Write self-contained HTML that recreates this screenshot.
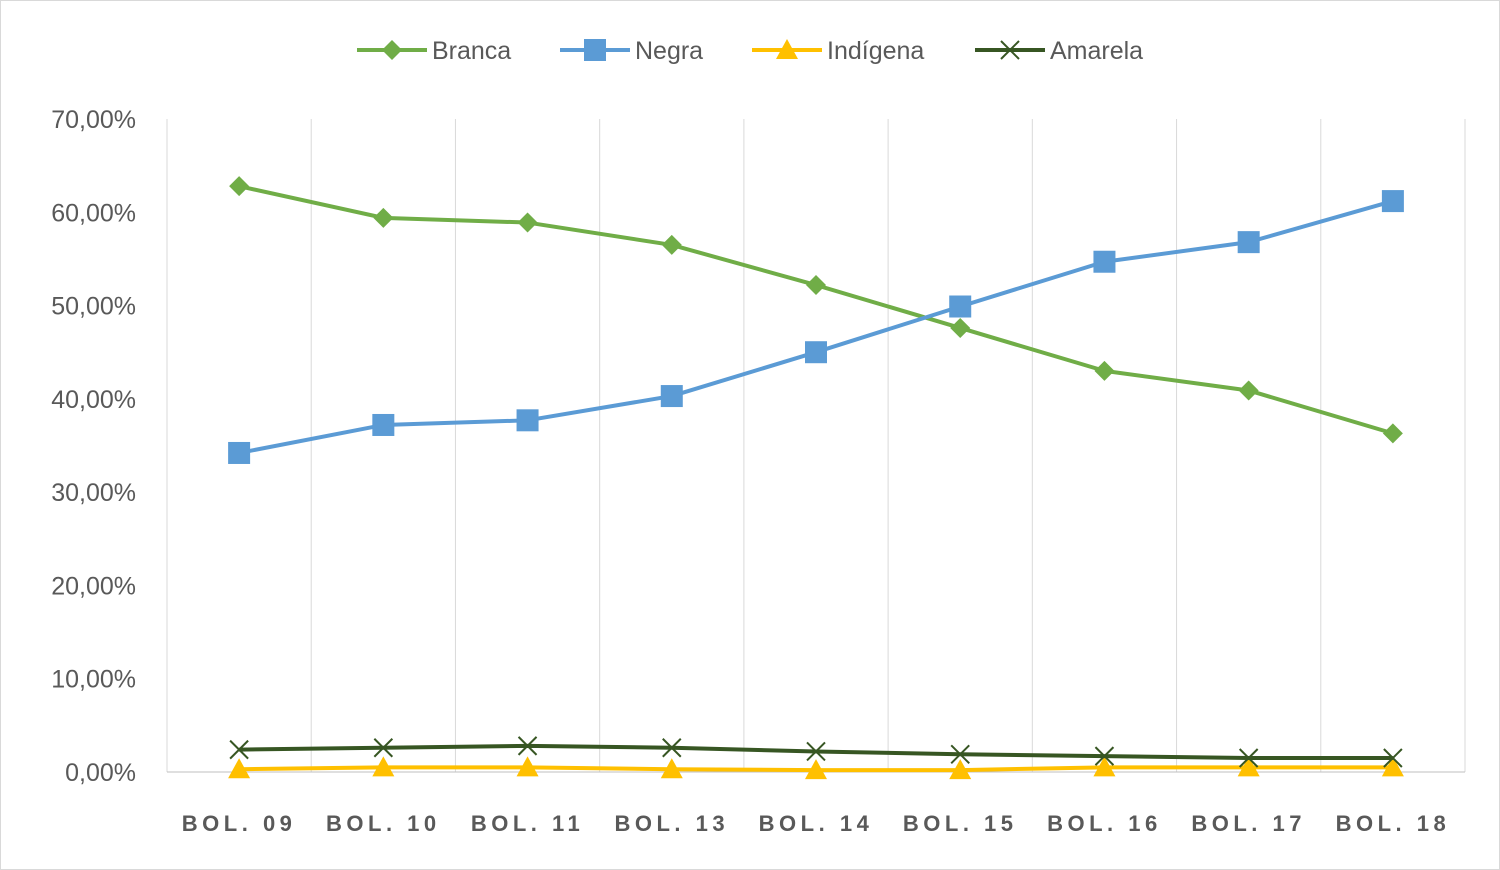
<!DOCTYPE html>
<html><head><meta charset="utf-8"><style>
body{margin:0;background:#fff;}
svg{display:block;font-family:"Liberation Sans",sans-serif;}
</style></head><body>
<svg id="chart" width="1500" height="870">
<rect x="0.5" y="0.5" width="1499" height="869" fill="#fff" stroke="#d9d9d9"/>
<g id="grid"></g><g id="axes"></g><g id="series"></g><g id="legend"></g>
</svg>
<script>
const categories=["BOL. 09","BOL. 10","BOL. 11","BOL. 13","BOL. 14","BOL. 15","BOL. 16","BOL. 17","BOL. 18"];
const branca=[62.8,59.4,58.9,56.5,52.2,47.6,43.0,40.9,36.3];
const negra=[34.2,37.2,37.7,40.3,45.0,49.9,54.7,56.8,61.2];
const indigena=[0.3,0.5,0.5,0.3,0.2,0.2,0.5,0.5,0.5];
const amarela=[2.4,2.6,2.8,2.6,2.2,1.9,1.7,1.5,1.5];
const yTicks=[0,10,20,30,40,50,60,70];
const seriesNames=["Branca","Negra","Indígena","Amarela"];

const NS="http://www.w3.org/2000/svg";
const X0=167,X1=1465,Y0=772,Y70=119;
const step=(X1-X0)/categories.length;
const xs=i=>X0+step*(i+0.5);
const ys=v=>Y0-(v/70)*(Y0-Y70);
function mk(tag,attrs,parent){const e=document.createElementNS(NS,tag);for(const k in attrs)e.setAttribute(k,attrs[k]);parent.appendChild(e);return e;}
const grid=document.getElementById('grid'),axes=document.getElementById('axes'),ser=document.getElementById('series'),leg=document.getElementById('legend');
for(let i=0;i<=categories.length;i++){const x=X0+step*i;const l=mk('line',{x1:x,x2:x,y1:Y70,y2:Y0,stroke:'#d9d9d9','stroke-width':1},grid);

}
const ax=mk('line',{x1:X0,x2:X1,y1:Y0,y2:Y0,stroke:'#bfbfbf','stroke-width':1},axes);


yTicks.forEach(t=>{const e=mk('text',{x:136,y:ys(t)+9,'text-anchor':'end','font-size':25,fill:'#595959'},axes);e.textContent=t.toFixed(2).replace('.',',')+'%';

});
categories.forEach((c,i)=>{const e=mk('text',{x:xs(i),y:831,'text-anchor':'middle','font-size':22,'font-weight':'bold',fill:'#595959','letter-spacing':'4.5'},axes);e.textContent=c;

});
const colors=['#70ad47','#5b9bd5','#ffc000','#375623'];
function marker(type,x,y,col,g){
 if(type===0)return mk('polygon',{points:`${x},${y-10} ${x+10},${y} ${x},${y+10} ${x-10},${y}`,fill:col},g);
 if(type===1)return mk('rect',{x:x-11,y:y-11,width:22,height:22,fill:col},g);
 if(type===2)return mk('polygon',{points:`${x},${y-11} ${x+11},${y+9} ${x-11},${y+9}`,fill:col},g);
 return mk('path',{d:`M${x-9},${y-9}L${x+9},${y+9}M${x-9},${y+9}L${x+9},${y-9}`,stroke:col,'stroke-width':2,fill:'none'},g);
}
[branca,negra,indigena,amarela].forEach((arr,s)=>{
 const g=mk('g',{},ser);
 
 
 const p=mk('polyline',{points:arr.map((v,i)=>xs(i)+','+ys(v)).join(' '),fill:'none',stroke:colors[s],'stroke-width':4,'stroke-linejoin':'round'},g);
 
 
 arr.forEach((v,i)=>{const m=marker(s,xs(i),ys(v),colors[s],g);
 
 });
});
const lx=[357,560,752,975];
seriesNames.forEach((n,s)=>{
 const g=mk('g',{},leg);
 
 
 mk('line',{x1:lx[s],x2:lx[s]+70,y1:50,y2:50,stroke:colors[s],'stroke-width':4},g);
 marker(s,lx[s]+35,50,colors[s],g);
 const t=mk('text',{x:lx[s]+75,y:59,'font-size':25,fill:'#595959'},g);t.textContent=n;
});
</script>
</body></html>
